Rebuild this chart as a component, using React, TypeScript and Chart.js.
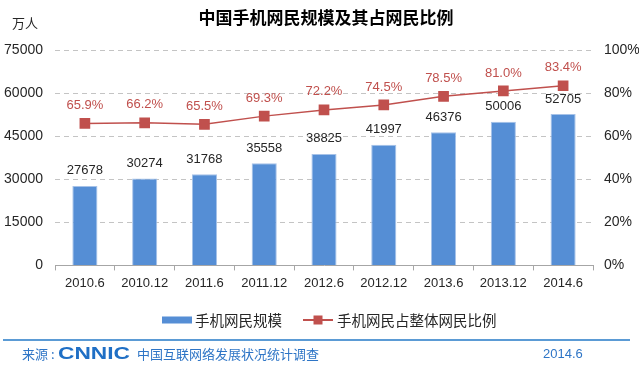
import React, { useEffect, useRef } from "react";
import { Chart, registerables } from "chart.js";

Chart.register(...registerables);

const categories = ["2010.6", "2010.12", "2011.6", "2011.12", "2012.6", "2012.12", "2013.6", "2013.12", "2014.6"];
const mobileUsers = [27678, 30274, 31768, 35558, 38825, 41997, 46376, 50006, 52705];
const mobileShare = [65.9, 66.2, 65.5, 69.3, 72.2, 74.5, 78.5, 81.0, 83.4];
const leftTicks = [0, 15000, 30000, 45000, 60000, 75000];
const rightTicks = [0, 20, 40, 60, 80, 100];

const title = "中国手机网民规模及其占网民比例";
const unitLabel = "万人";
const barLabel = "手机网民规模";
const lineLabel = "手机网民占整体网民比例";
const sourceLabel = "来源";
const logoLabel = "CNNIC";
const sourceText = "中国互联网络发展状况统计调查";
const dateText = "2014.6";

const BLUE = "#558ED5";
const RED = "#C0504D";
const FOOT_BLUE = "#2E75C6";
const FONT = "'Liberation Sans', 'Noto Sans CJK SC', sans-serif";
const CJK = "'Noto Sans CJK SC', 'Liberation Sans', sans-serif";

const decorPlugin = {
  id: "decor",
  afterDatasetsDraw(chart: any) {
    const ctx = chart.ctx as CanvasRenderingContext2D;
    ctx.save();
    ctx.font = `13px ${FONT}`;
    ctx.textAlign = "center";
    ctx.textBaseline = "middle";
    ctx.fillStyle = "#262626";
    chart.getDatasetMeta(0).data.forEach((el: any, i: number) => {
      ctx.fillText(String(mobileUsers[i]), el.x, el.y - 15);
    });
    ctx.fillStyle = RED;
    chart.getDatasetMeta(1).data.forEach((el: any, i: number) => {
      ctx.fillText(mobileShare[i].toFixed(1) + "%", el.x, el.y - 18);
    });
    ctx.restore();
  },
  afterDraw(chart: any) {
    const ctx = chart.ctx as CanvasRenderingContext2D;
    ctx.save();
    ctx.textBaseline = "middle";
    // title
    ctx.font = `bold 17px ${CJK}`;
    ctx.fillStyle = "#000";
    ctx.textAlign = "center";
    ctx.fillText(title, 326, 18);
    // unit
    ctx.font = `13px ${CJK}`;
    ctx.fillStyle = "#262626";
    ctx.textAlign = "left";
    ctx.fillText(unitLabel, 12, 23);

    // legend
    const ly = 320;
    ctx.fillStyle = BLUE;
    ctx.fillRect(162, ly - 3.5, 30, 7);
    ctx.font = `14.5px ${CJK}`;
    ctx.fillStyle = "#262626";
    ctx.fillText(barLabel, 195, ly);
    ctx.strokeStyle = RED;
    ctx.lineWidth = 2;
    ctx.beginPath(); ctx.moveTo(303, ly); ctx.lineTo(333, ly); ctx.stroke();
    ctx.fillStyle = RED;
    ctx.fillRect(313.5, ly - 4.5, 9, 9);
    ctx.fillStyle = "#262626";
    ctx.fillText(lineLabel, 337, ly);

    // footer
    ctx.strokeStyle = "#5B9BD5";
    ctx.lineWidth = 2;
    ctx.beginPath(); ctx.moveTo(3, 340); ctx.lineTo(630, 340); ctx.stroke();
    ctx.fillStyle = FOOT_BLUE;
    ctx.font = `13px ${CJK}`;
    ctx.fillText(sourceLabel, 22, 354);
    ctx.fillText(":", 51, 354);
    ctx.font = `bold 17px ${FONT}`;
    const w = ctx.measureText(logoLabel).width;
    ctx.save();
    ctx.translate(58, 354);
    ctx.scale(72 / w, 1);
    ctx.fillStyle = "#1F6FC5";
    ctx.fillText(logoLabel, 0, 0);
    ctx.restore();
    ctx.fillStyle = FOOT_BLUE;
    ctx.font = `13px ${CJK}`;
    ctx.fillText(sourceText, 137, 354);
    ctx.font = `13px ${FONT}`;
    ctx.fillText(dateText, 543, 354);
    ctx.restore();
  },
};

export default function App() {
  const ref = useRef<HTMLCanvasElement | null>(null);
  useEffect(() => {
    if (!ref.current) return;
    const chart = new Chart(ref.current, {
      type: "bar",
      data: {
        labels: categories,
        datasets: [
          {
            type: "bar",
            label: barLabel,
            data: mobileUsers,
            yAxisID: "y",
            backgroundColor: BLUE,
            borderColor: "#A6C2E8",
            borderWidth: 1,
            barPercentage: 0.42,
            categoryPercentage: 1,
            order: 2,
          },
          {
            type: "line",
            label: lineLabel,
            data: mobileShare,
            yAxisID: "y1",
            borderColor: RED,
            backgroundColor: RED,
            borderWidth: 1.5,
            pointStyle: "rect",
            pointRadius: 6.5,
            pointBackgroundColor: RED,
            pointBorderColor: RED,
            order: 1,
          } as any,
        ],
      },
      options: {
        responsive: false,
        animation: false,
        layout: { padding: { top: 50, left: 3, right: 1, bottom: 70 } },
        plugins: {
          legend: { display: false },
          tooltip: { enabled: false },
        },
        scales: {
          x: {
            offset: true,
            grid: { display: true, drawOnChartArea: false, offset: true, tickLength: 5, color: "#A6A6A6" },
            border: { display: true, color: "#A6A6A6" },
            ticks: { color: "#262626", font: { family: FONT, size: 13 }, padding: 5 },
          },
          y: {
            position: "left",
            min: 0,
            max: 75000,
            afterBuildTicks(axis: any) { axis.ticks = leftTicks.map((v) => ({ value: v })); },
            afterFit(axis: any) { axis.width = 52; },
            grid: { color: "#C4C4C4", drawTicks: false },
            border: { display: false, dash: [5, 4] },
            ticks: { color: "#262626", font: { family: FONT, size: 14 }, padding: 12, callback: (v: any) => String(v) },
          },
          y1: {
            position: "right",
            min: 0,
            max: 100,
            afterBuildTicks(axis: any) { axis.ticks = rightTicks.map((v) => ({ value: v })); },
            afterFit(axis: any) { axis.width = 46; },
            grid: { display: false, drawTicks: false, tickLength: 0 },
            border: { display: false },
            ticks: { color: "#262626", font: { family: FONT, size: 14 }, padding: 11, callback: (v: any) => v + "%" },
          },
        },
      },
      plugins: [decorPlugin],
    } as any);
    return () => chart.destroy();
  }, []);
  return (
    <div style={{ position: "fixed", left: 0, top: 0, width: 640, height: 366, background: "#fff" }}>
      <canvas ref={ref} width={640} height={366} />
    </div>
  );
}
